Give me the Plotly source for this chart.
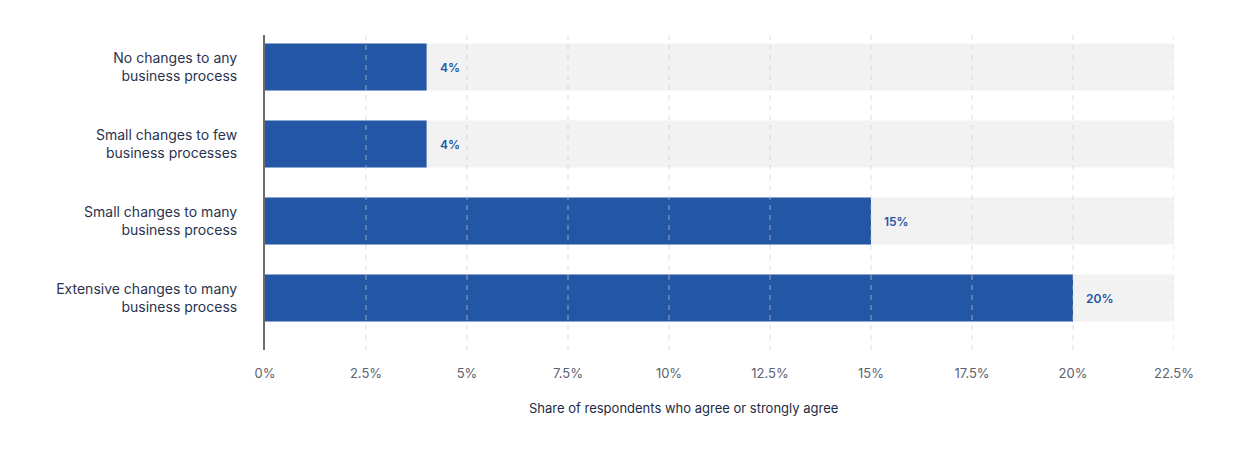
import plotly.graph_objects as go

categories = ["No changes to any<br>business process",
              "Small changes to few<br>business processes",
              "Small changes to many<br>business process",
              "Extensive changes to many<br>business process"]
values = [4, 4, 15, 20]
labels = ["4%", "4%", "15%", "20%"]
axis_max = 22.5
tick_vals = [0, 2.5, 5, 7.5, 10, 12.5, 15, 17.5, 20, 22.5]
tick_text = ["0%", "2.5%", "5%", "7.5%", "10%", "12.5%", "15%", "17.5%", "20%", "22.5%"]

BLUE = "#2356a4"
FONT = "Inter, Lato, sans-serif"

fig = go.Figure()
fig.add_trace(go.Bar(y=categories, x=[axis_max] * len(categories), orientation="h",
                     marker=dict(color="#f2f2f2", line=dict(width=0)), width=0.61,
                     hoverinfo="skip", showlegend=False))
fig.add_trace(go.Bar(y=categories, x=values, orientation="h",
                     marker=dict(color=BLUE, line=dict(width=0)), width=0.61,
                     showlegend=False))

for c, v, t in zip(categories, values, labels):
    fig.add_annotation(x=v, y=c, text=t, showarrow=False, xanchor="left", xshift=11,
                       font=dict(family=FONT, size=12, color=BLUE, weight=600))

for tv in tick_vals[1:]:
    fig.add_shape(type="line", x0=tv, x1=tv, xref="x", y0=0, y1=1, yref="paper",
                  line=dict(color="rgba(205,205,205,0.45)", width=1.5, dash="5px,5px"), layer="above")

fig.add_annotation(text="Share of respondents who agree or strongly agree", xref="paper", yref="paper",
                   x=0.46, y=-0.185, showarrow=False, xanchor="center", yanchor="middle",
                   font=dict(family=FONT, size=13, color="#1e2a44"))

fig.update_layout(
    width=1232, height=451,
    margin=dict(l=257, r=66, t=27, b=109),
    barmode="overlay",
    plot_bgcolor="white", paper_bgcolor="white",
    font=dict(family=FONT),
    xaxis=dict(range=[0, axis_max], tickvals=tick_vals, ticktext=tick_text, showgrid=False,
               zeroline=False, showline=False, ticks="", ticklabelstandoff=14,
               tickfont=dict(family=FONT, size=13, color="#5d6270")),
    yaxis=dict(range=[3.675, -0.416], showgrid=False, zeroline=False, showline=True,
               linecolor="#6b6b6b", linewidth=2, ticks="", ticklabelstandoff=23,
               tickfont=dict(family=FONT, size=14, color="#2a3350")),
)

fig.write_html("out.html")
